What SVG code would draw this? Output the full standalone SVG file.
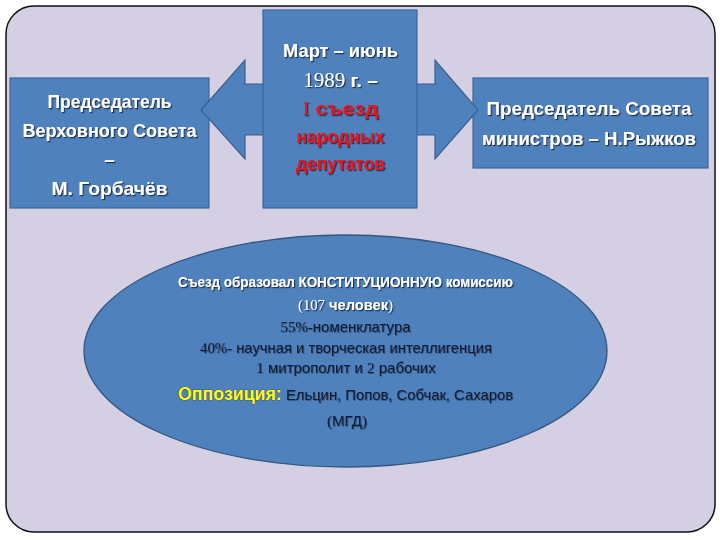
<svg xmlns="http://www.w3.org/2000/svg" width="720" height="540" viewBox="0 0 720 540">
<defs>
<filter id="sh" x="-10%" y="-30%" width="120%" height="160%">
<feDropShadow dx="1.2" dy="1.2" stdDeviation="0.5" flood-color="#14233a" flood-opacity="0.85"/>
</filter>
<filter id="sh2" x="-10%" y="-30%" width="120%" height="160%">
<feDropShadow dx="0.8" dy="0.8" stdDeviation="0.4" flood-color="#1c2c45" flood-opacity="0.6"/>
</filter>
</defs>
<style>
.box{fill:#4f81bd;stroke:#3b679c;stroke-width:1.2}
.t{font-family:"Liberation Sans","DejaVu Sans",sans-serif;font-weight:bold;font-size:19px;fill:#ffffff;text-anchor:middle;filter:url(#sh)}
.red{fill:#e8141c}
.serif{font-family:"Liberation Serif","DejaVu Serif",serif;font-weight:normal}
.e{font-family:"Liberation Sans","DejaVu Sans",sans-serif;font-size:15px;text-anchor:middle}
.ew{fill:#ffffff;font-weight:bold;filter:url(#sh)}
.ed{fill:#0f1a33;filter:url(#sh2)}
.yel{fill:#ffff1a;font-weight:bold;font-size:18px;stroke:#2a2a10;stroke-width:0.6;paint-order:stroke}
</style>
<rect x="0" y="0" width="720" height="540" fill="#ffffff"/>
<rect x="6" y="6" width="709" height="526" rx="28" ry="28" fill="#d5cfe3" stroke="#111111" stroke-width="1.5"/>

<g id="node-left">
<rect class="box" x="10" y="78" width="199" height="130"/>
<text class="t" x="109.5" y="108" textLength="124" lengthAdjust="spacingAndGlyphs">Председатель</text>
<text class="t" x="109.5" y="137" textLength="174" lengthAdjust="spacingAndGlyphs">Верховного Совета</text>
<text class="t" x="109.5" y="166">–</text>
<text class="t" x="109.5" y="195" textLength="116" lengthAdjust="spacingAndGlyphs">М. Горбачёв</text>
</g>

<g id="node-right">
<rect class="box" x="473" y="78" width="235" height="90"/>
<text class="t" x="589" y="115" textLength="205" lengthAdjust="spacingAndGlyphs">Председатель Совета</text>
<text class="t" x="589" y="145" textLength="214" lengthAdjust="spacingAndGlyphs">министров – Н.Рыжков</text>
</g>

<g id="connectors">
<polygon points="201,110 245,60 245,84 435,84 435,60 478,110 435,159 435,135 245,135 245,159" fill="#4f81bd" stroke="#3b5f8e" stroke-width="1.2" stroke-linejoin="miter"/>
</g>

<g id="node-center">
<rect class="box" x="263" y="10" width="154" height="198"/>
<text class="t" x="340.5" y="57" textLength="115" lengthAdjust="spacingAndGlyphs">Март – июнь</text>
<text class="t" x="340.5" y="87"><tspan class="serif" font-size="21">1989</tspan> г. –</text>
<text class="t red" x="340.5" y="115" textLength="76" lengthAdjust="spacingAndGlyphs"><tspan class="serif">I</tspan> съезд</text>
<text class="t red" x="340.5" y="143" textLength="88" lengthAdjust="spacingAndGlyphs">народных</text>
<text class="t red" x="340.5" y="170" textLength="89" lengthAdjust="spacingAndGlyphs">депутатов</text>
</g>

<g id="node-ellipse">
<ellipse cx="345.5" cy="351" rx="261.5" ry="116" fill="#4f81bd" stroke="#34577f" stroke-width="1.3"/>
<text class="e ew" x="345.5" y="287" textLength="335" lengthAdjust="spacingAndGlyphs">Съезд образовал КОНСТИТУЦИОННУЮ комиссию</text>
<text class="e ew" x="345.5" y="310" textLength="95" lengthAdjust="spacingAndGlyphs"><tspan class="serif">(107</tspan> человек<tspan class="serif">)</tspan></text>
<text class="e ed" x="345.5" y="332" textLength="130" lengthAdjust="spacingAndGlyphs"><tspan class="serif">55%-</tspan>номенклатура</text>
<text class="e ed" x="346" y="353" textLength="292" lengthAdjust="spacingAndGlyphs"><tspan class="serif">40%-</tspan> научная и творческая интеллигенция</text>
<text class="e ed" x="346" y="373"><tspan class="serif">1</tspan> митрополит и <tspan class="serif">2</tspan> рабочих</text>
<text class="e" x="345.5" y="400" textLength="335" lengthAdjust="spacingAndGlyphs"><tspan class="yel">Оппозиция:</tspan><tspan class="ed"> Ельцин, Попов, Собчак, Сахаров</tspan></text>
<text class="e ed" x="347" y="426" textLength="40" lengthAdjust="spacingAndGlyphs"><tspan class="serif">(</tspan>МГД<tspan class="serif">)</tspan></text>
</g>
</svg>
